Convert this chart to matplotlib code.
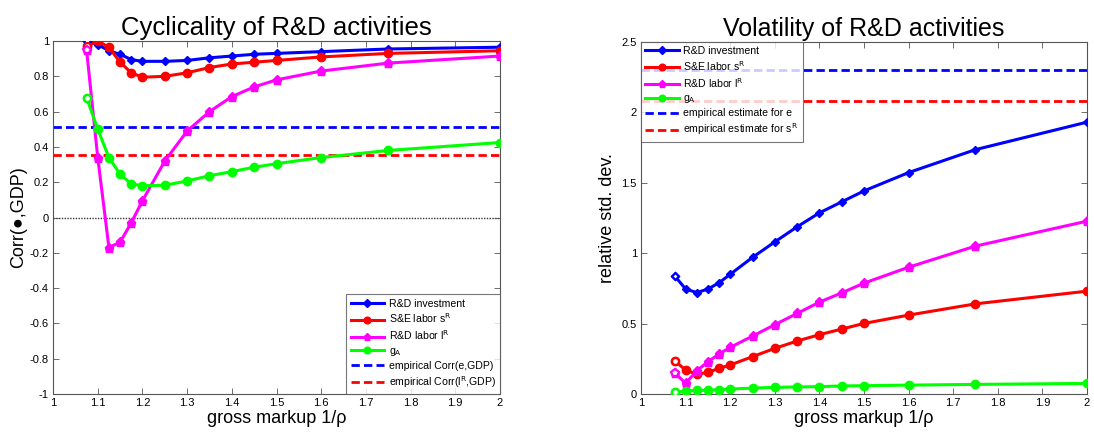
import matplotlib
matplotlib.use("Agg")
import matplotlib.pyplot as plt
from matplotlib.lines import Line2D

plt.rcParams['font.family'] = ['Liberation Sans', 'DejaVu Sans']

markup = [1.075, 1.1, 1.125, 1.15, 1.175, 1.2, 1.25, 1.3, 1.35, 1.4, 1.45, 1.5, 1.6, 1.75, 2.0]

# Cyclicality (left)
corr_rd_inv = [1.0, 0.98, 0.945, 0.925, 0.895, 0.885, 0.885, 0.89, 0.905, 0.915, 0.925, 0.93, 0.94, 0.955, 0.965]
corr_se_lab = [0.97, 1.0, 0.965, 0.88, 0.82, 0.795, 0.80, 0.82, 0.85, 0.87, 0.88, 0.89, 0.91, 0.93, 0.945]
corr_rd_lab = [0.95, 0.34, -0.17, -0.14, -0.03, 0.095, 0.32, 0.49, 0.60, 0.685, 0.74, 0.78, 0.83, 0.875, 0.915]
corr_gA = [0.68, 0.50, 0.34, 0.245, 0.19, 0.18, 0.183, 0.207, 0.237, 0.26, 0.285, 0.305, 0.34, 0.38, 0.425]
emp_corr_e = 0.515
emp_corr_l = 0.355

# Volatility (right)
vol_rd_inv = [0.84, 0.745, 0.72, 0.745, 0.79, 0.85, 0.97, 1.08, 1.187, 1.286, 1.364, 1.442, 1.572, 1.735, 1.93]
vol_se_lab = [0.236, 0.17, 0.14, 0.154, 0.182, 0.206, 0.265, 0.324, 0.376, 0.421, 0.461, 0.501, 0.56, 0.64, 0.73]
vol_rd_lab = [0.151, 0.076, 0.165, 0.229, 0.284, 0.331, 0.411, 0.492, 0.572, 0.652, 0.718, 0.787, 0.90, 1.05, 1.227]
vol_gA = [0.012, 0.021, 0.026, 0.026, 0.031, 0.035, 0.042, 0.047, 0.05, 0.052, 0.057, 0.059, 0.063, 0.068, 0.075]
emp_vol_e = 2.30
emp_vol_s = 2.08

xticks = [1, 1.1, 1.2, 1.3, 1.4, 1.5, 1.6, 1.7, 1.8, 1.9, 2]
xticklabels = ['1', '1.1', '1.2', '1.3', '1.4', '1.5', '1.6', '1.7', '1.8', '1.9', '2']

BLUE, RED, MAG, GRN = '#0000ff', '#ff0000', '#ff00ff', '#00ff00'
series_style = [(BLUE, 'D', 4.5), (RED, 'o', 6), (MAG, 'p', 6.5), (GRN, 'o', 6)]
DASH = (0, (3, 1.5))

fig = plt.figure(figsize=(10.94, 4.32), dpi=100)
axL = fig.add_axes([0.0485, 0.088, 0.4085, 0.817])
axR = fig.add_axes([0.586, 0.088, 0.4075, 0.815])

def style_axes(ax):
    for s in ax.spines.values():
        s.set_color('#555555')
        s.set_linewidth(0.8)
    ax.tick_params(direction='in', top=True, right=True, labelsize=8,
                   color='#555555', length=4, width=0.6, pad=3)
    ax.set_xlim(1, 2)
    ax.set_xticks(xticks)
    ax.set_xticklabels(xticklabels)
    ax.set_xlabel('gross markup 1/ρ', fontsize=13, labelpad=1)

def plot_series(ax, ys, labels):
    handles = []
    for y, (c, m, ms), lab in zip(ys, series_style, labels):
        ax.plot(markup, y, color=c, lw=2.2, marker=m, ms=ms, mfc=c, mec=c, zorder=3)
        ax.plot(markup[:1], y[:1], ls='none', marker=m, ms=ms - 1, mfc='white', mec=c, mew=1.6, zorder=4)
        handles.append(Line2D([], [], color=c, lw=2.2, marker=m, ms=ms * 0.8, mfc=c, mec=c, label=lab))
    return handles

def make_legend(ax, handles, loc):
    leg = ax.legend(handles=handles, loc=loc, fontsize=7.6, frameon=True, fancybox=False,
                    edgecolor='#555555', borderaxespad=0.0, handlelength=3.2, labelspacing=0.3,
                    borderpad=0.4, handletextpad=0.4)
    leg.get_frame().set_linewidth(0.8)
    return leg

labels = ['R&D investment', 'S&E labor s$^{\\mathrm{R}}$', 'R&D labor l$^{\\mathrm{R}}$', 'g$_{\\mathrm{A}}$']

# Left panel
style_axes(axL)
axL.axhline(0, color='#333333', ls=(0, (1, 1)), lw=1.0, zorder=1)
axL.axhline(emp_corr_e, color=BLUE, ls=DASH, lw=2.0, zorder=2)
axL.axhline(emp_corr_l, color=RED, ls=DASH, lw=2.0, zorder=2)
hL = plot_series(axL, [corr_rd_inv, corr_se_lab, corr_rd_lab, corr_gA], labels)
hL += [Line2D([], [], color=BLUE, ls=DASH, lw=2.0, label='empirical Corr(e,GDP)'),
       Line2D([], [], color=RED, ls=DASH, lw=2.0, label='empirical Corr(l$^{\\mathrm{R}}$,GDP)')]
axL.set_ylim(-1, 1)
axL.set_yticks([-1, -0.8, -0.6, -0.4, -0.2, 0, 0.2, 0.4, 0.6, 0.8, 1])
axL.set_yticklabels(['-1', '-0.8', '-0.6', '-0.4', '-0.2', '0', '0.2', '0.4', '0.6', '0.8', '1'])
axL.set_ylabel('Corr(●,GDP)', fontsize=13, labelpad=2)
axL.set_title('Cyclicality of R&D activities', fontsize=18.5, pad=4)
make_legend(axL, hL, 'lower right')

# Right panel
style_axes(axR)
axR.axhline(emp_vol_e, color=BLUE, ls=DASH, lw=2.0, zorder=2)
axR.axhline(emp_vol_s, color=RED, ls=DASH, lw=2.0, zorder=2)
hR = plot_series(axR, [vol_rd_inv, vol_se_lab, vol_rd_lab, vol_gA], labels)
hR += [Line2D([], [], color=BLUE, ls=DASH, lw=2.0, label='empirical estimate for e'),
       Line2D([], [], color=RED, ls=DASH, lw=2.0, label='empirical estimate for s$^{\\mathrm{R}}$')]
axR.set_ylim(0, 2.5)
axR.set_yticks([0, 0.5, 1, 1.5, 2, 2.5])
axR.set_yticklabels(['0', '0.5', '1', '1.5', '2', '2.5'])
axR.set_ylabel('relative std. dev.', fontsize=13, labelpad=4)
axR.set_title('Volatility of R&D activities', fontsize=18, pad=4)
make_legend(axR, hR, 'upper left')

fig.savefig('out.png', dpi=100)
